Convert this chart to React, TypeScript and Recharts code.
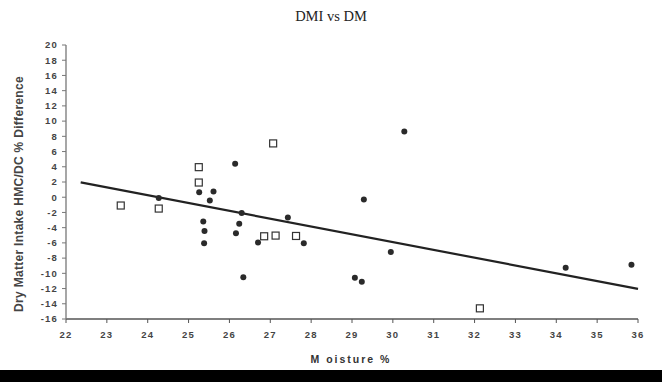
import React from 'react';
import {
  ScatterChart,
  Scatter,
  XAxis,
  YAxis,
  ReferenceLine,
} from 'recharts';

// filled circles
const filledMoisture = [24.27, 25.26, 25.61, 25.52, 25.36, 25.39, 25.38, 26.14, 26.3, 26.24, 26.16, 26.7, 26.34, 27.43, 27.82, 29.29, 30.28, 29.95, 29.07, 29.24, 34.23, 35.84];
const filledDiff = [-0.1, 0.66, 0.75, -0.44, -3.2, -4.43, -6.05, 4.39, -2.06, -3.47, -4.74, -5.96, -10.5, -2.67, -6.05, -0.31, 8.64, -7.2, -10.57, -11.1, -9.25, -8.86];

// open squares
const openMoisture = [23.34, 24.27, 25.25, 25.25, 27.07, 26.85, 27.13, 27.63, 32.13];
const openDiff = [-1.09, -1.49, 3.95, 1.93, 7.07, -5.13, -5.04, -5.09, -14.6];

// regression line end points
const trendX = [22.36, 36];
const trendY = [1.95, -12.05];

const xTicks = [22, 23, 24, 25, 26, 27, 28, 29, 30, 31, 32, 33, 34, 35, 36];
const yTicks = [-16, -14, -12, -10, -8, -6, -4, -2, 0, 2, 4, 6, 8, 10, 12, 14, 16, 18, 20];

const filledData = filledMoisture.map((x, i) => ({ x, y: filledDiff[i] }));
const openData = openMoisture.map((x, i) => ({ x, y: openDiff[i] }));

const FilledDot = (props: any) => (
  <circle cx={props.cx} cy={props.cy} r={3} fill="#2a2a2a" />
);

const OpenSquare = (props: any) => (
  <rect x={props.cx - 3.5} y={props.cy - 3.5} width={7} height={7} fill="#fff" stroke="#333" strokeWidth={1.2} />
);

const tickStyle = { fill: '#444', fontSize: 9.5, fontWeight: 700, letterSpacing: 1.2 };

export default function App() {
  return (
    <div style={{ position: 'absolute', left: 0, top: 0, width: 662, height: 382, background: '#fff', fontFamily: '"Liberation Sans", Arial, sans-serif' }}>
      <div style={{ position: 'absolute', left: 0, width: 662, top: 8, textAlign: 'center', fontFamily: '"Liberation Serif", "Times New Roman", serif', fontSize: 14.5, color: '#222' }}>
        DMI vs DM
      </div>
      <div style={{ position: 'absolute', left: 19, top: 194, transform: 'translate(-50%, -50%) rotate(-90deg)', whiteSpace: 'nowrap', fontSize: 12, fontWeight: 700, letterSpacing: 0.3, color: '#444' }}>
        Dry Matter Intake HMC/DC % Difference
      </div>
      <div style={{ position: 'absolute', left: 351, top: 359, transform: 'translate(-50%, -50%)', whiteSpace: 'nowrap', fontSize: 10.5, fontWeight: 700, letterSpacing: 2, color: '#333' }}>
        M oisture %
      </div>
      <ScatterChart width={662} height={382} margin={{ top: 45, right: 24, bottom: 23, left: 0 }}>
        <XAxis
          type="number"
          dataKey="x"
          domain={[22, 36]}
          ticks={xTicks}
          interval={0}
          tickSize={4}
          tickMargin={8}
          height={40}
          tick={tickStyle}
          axisLine={{ stroke: '#555', strokeWidth: 1.3 }}
          tickLine={{ stroke: '#555' }}
        />
        <YAxis
          type="number"
          dataKey="y"
          domain={[-16, 20]}
          ticks={yTicks}
          interval={0}
          width={66}
          tickSize={4}
          tickMargin={4}
          tick={tickStyle}
          axisLine={{ stroke: '#777', strokeWidth: 1.3 }}
          tickLine={{ stroke: '#777' }}
        />
        <ReferenceLine
          segment={[{ x: trendX[0], y: trendY[0] }, { x: trendX[1], y: trendY[1] }]}
          stroke="#222"
          strokeWidth={2.2}
          ifOverflow="visible"
        />
        <Scatter data={filledData} shape={FilledDot} isAnimationActive={false} />
        <Scatter data={openData} shape={OpenSquare} isAnimationActive={false} />
      </ScatterChart>
      <div style={{ position: 'absolute', left: 0, top: 370, width: 662, height: 12, background: '#000' }} />
    </div>
  );
}
